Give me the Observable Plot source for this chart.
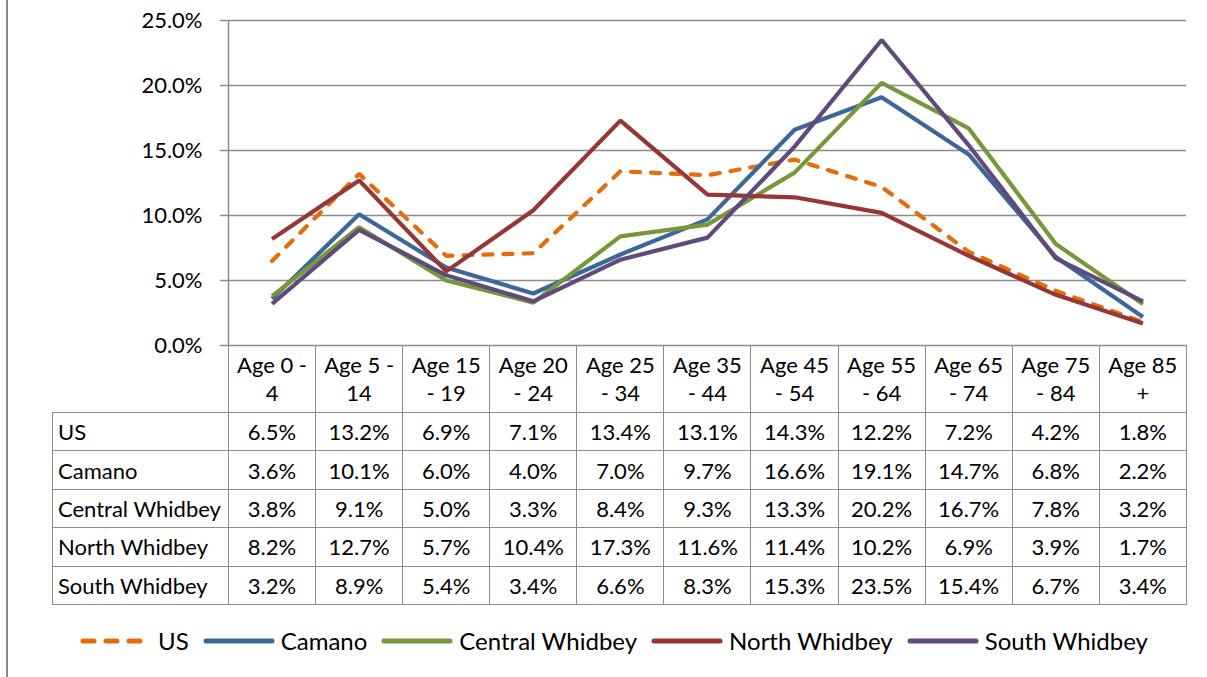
<!DOCTYPE html>
<html><head><meta charset="utf-8">
<script src="https://cdn.jsdelivr.net/npm/d3@7"></script>
<script src="https://cdn.jsdelivr.net/npm/@observablehq/plot@0.6"></script>
<style>
body{margin:0;background:#fff;font-family:Lato,sans-serif;color:#000;}
#wrap{position:relative;width:1207px;height:677px;overflow:hidden;background:#fff;}
#edge{position:absolute;left:6px;top:0;width:2px;height:677px;background:#8c8c8c;}
#chart{position:absolute;left:0;top:0;}
#tbl{position:absolute;left:52px;top:345px;border-collapse:collapse;table-layout:fixed;font-size:22px;}
#tbl td{border:1.5px solid #8c8c8c;padding:0;text-align:center;white-space:nowrap;}
#tbl td.name{text-align:left;padding-left:5px;}
#tbl tr.head td{line-height:28px;vertical-align:middle;}
#tbl tr.head td.blank{border-left:none;border-top:none;}
#legend{position:absolute;left:80px;top:626px;display:flex;align-items:center;font-size:24px;white-space:nowrap;}
#legend .item{display:flex;align-items:center;margin-right:14px;}
#legend svg{margin-right:6px;}
</style></head><body>
<div id="wrap"><div id="edge"></div><div id="chart"></div><table id="tbl"></table><div id="legend"></div></div>
<script>
const ages = ["Age 0 - 4","Age 5 - 14","Age 15 - 19","Age 20 - 24","Age 25 - 34","Age 35 - 44","Age 45 - 54","Age 55 - 64","Age 65 - 74","Age 75 - 84","Age 85 +"];
const ageLabels = [["Age 0 -","4"],["Age 5 -","14"],["Age 15","- 19"],["Age 20","- 24"],["Age 25","- 34"],["Age 35","- 44"],["Age 45","- 54"],["Age 55","- 64"],["Age 65","- 74"],["Age 75","- 84"],["Age 85","+"]];
const series = ["US","Camano","Central Whidbey","North Whidbey","South Whidbey"];
const us       = [6.5,13.2,6.9,7.1,13.4,13.1,14.3,12.2,7.2,4.2,1.8];
const camano   = [3.6,10.1,6.0,4.0,7.0,9.7,16.6,19.1,14.7,6.8,2.2];
const central  = [3.8,9.1,5.0,3.3,8.4,9.3,13.3,20.2,16.7,7.8,3.2];
const north    = [8.2,12.7,5.7,10.4,17.3,11.6,11.4,10.2,6.9,3.9,1.7];
const south    = [3.2,8.9,5.4,3.4,6.6,8.3,15.3,23.5,15.4,6.7,3.4];
const yTicks   = [0,0.05,0.10,0.15,0.20,0.25];
const colors   = ["#e46c0a","#3b6898","#77973c","#953735","#604a7b"];
const values = [us,camano,central,north,south];

const pct = d3.format(".1%");
const rowsFor = k => values[k].map((v,i)=>({series:series[k], i, age:ages[i], v:v/100}));
const grid = "#8c8c8c";

const lineMarks = series.map((s,k)=> Plot.line(rowsFor(k), {
  x: d=>d.i+0.5, y:"v", stroke: colors[k], strokeWidth:4.2,
  strokeDasharray: k===0 ? "9,11" : undefined,
  strokeLinecap: k===0 ? "round" : "butt",
  strokeLinejoin: "miter"
}));

const plot = Plot.plot({
  width:1207, height:360, marginTop:20, marginBottom:15, marginLeft:228, marginRight:21,
  style:{fontFamily:"Lato, sans-serif", fontSize:"22px", color:"#000", background:"transparent", overflow:"visible"},
  x:{domain:[0, ages.length], axis:null},
  y:{domain:[0,0.25], axis:null},
  marks:[
    Plot.ruleY(yTicks, {stroke:grid, strokeWidth:1.5}),
    Plot.ruleX([0], {y1:0, y2:0.25, stroke:grid, strokeWidth:1.5}),
    Plot.axisY({ticks:yTicks, tickFormat:pct, tickSize:8, tickPadding:18, stroke:grid, strokeWidth:1.5, fill:"#000", label:null}),
    ...lineMarks
  ]
});
document.getElementById("chart").appendChild(plot);

// table aligned to the plot's x scale
const xs = plot.scale("x");
const tbl = d3.select("#tbl");
const cg = tbl.append("colgroup");
cg.append("col").style("width", (xs.apply(0)-52)+"px");
ages.forEach((a,i)=> cg.append("col").style("width", (xs.apply(i+1)-xs.apply(i))+"px"));
const head = tbl.append("tr").attr("class","head").style("height","67px");
head.append("td").attr("class","blank");
ageLabels.forEach(l=> head.append("td").html(l.join("<br>")));
series.forEach((s,k)=>{
  const tr = tbl.append("tr").style("height","38.4px");
  tr.append("td").attr("class","name").text(s);
  values[k].forEach(v=> tr.append("td").text(pct(v/100)));
});

// legend
const lg = d3.select("#legend");
series.forEach((s,k)=>{
  const it = lg.append("div").attr("class","item");
  const w = 72;
  const svg = it.append("svg").attr("width",w).attr("height",12);
  svg.append("line").attr("x1",3).attr("x2",w-3).attr("y1",6).attr("y2",6)
    .attr("stroke",colors[k]).attr("stroke-width",5).attr("stroke-linecap","round")
    .attr("stroke-dasharray", k===0 ? "11,12" : null);
  it.append("span").text(s);
});
</script>
</body></html>
